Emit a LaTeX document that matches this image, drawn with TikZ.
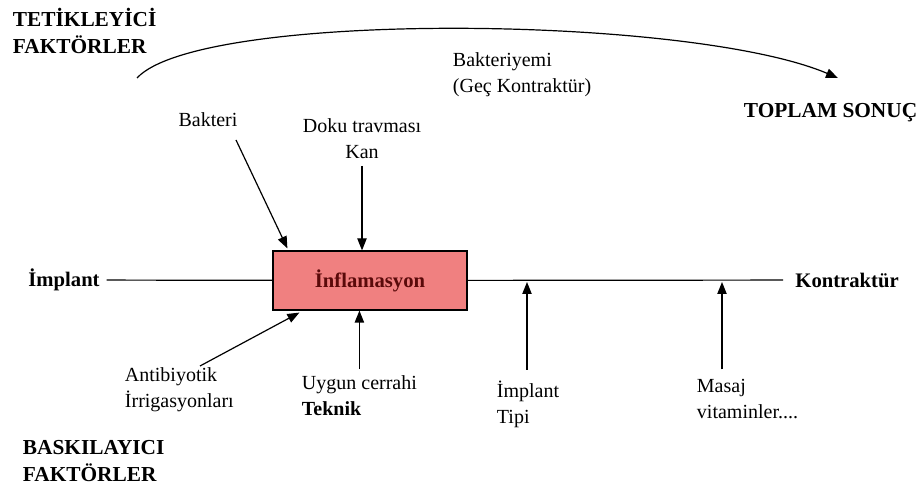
\documentclass[tikz,border=0pt]{standalone}
\usepackage{fontspec}
\setmainfont{Liberation Serif}
\usetikzlibrary{arrows.meta, positioning, calc}
\definecolor{boxred}{RGB}{240,128,128}
\definecolor{darkred}{RGB}{90,10,10}

\begin{document}
\begin{tikzpicture}[x=0.75pt, y=-0.75pt,
    factor/.style={font=\fontsize{16}{20}\selectfont\bfseries, align=left, inner sep=2pt},
    cause/.style={font=\fontsize{15}{19.5}\selectfont, align=left, inner sep=2pt},
    process/.style={rectangle, draw, line width=0.9pt, fill=boxred, minimum width=145.5pt, minimum height=44.25pt, font=\fontsize{15.5}{19}\selectfont\bfseries, text=darkred},
    axis/.style={draw, line width=0.9pt},
    arrow/.style={-{Triangle[length=9pt,width=7pt]}, line width=0.9pt}
]
\useasboundingbox (0,0) rectangle (920,491);

% Factor headings
\node[factor, anchor=west] (tetik) at (10,31) {TETİKLEYİCİ\\FAKTÖRLER};
\node[factor, anchor=west] (baski) at (20,461) {BASKILAYICI\\FAKTÖRLER};
\node[factor, anchor=west] (toplam) at (741,113) {TOPLAM SONUÇ};

% Main line
\node[process] (infl) at (370,280.5) {İnflamasyon};
\node[factor, font=\fontsize{15.5}{19}\selectfont\bfseries, anchor=west] (implant) at (25.5,280) {İmplant};
\node[factor, font=\fontsize{15.5}{19}\selectfont\bfseries, anchor=west] (kontr) at (792.5,280) {Kontraktür};
\draw[axis, shorten <=3pt] (implant) -- (infl);
\draw[axis, shorten >=7pt] (infl) -- (kontr);

% Overall course
\node[cause, anchor=west] (bakteriyemi) at (450,75) {Bakteriyemi\\(Geç Kontraktür)};
\coordinate (curve-start) at (137,78);
\coordinate (curve-end) at (838,78);
\draw[arrow] (curve-start) .. controls (200,10) and (690,15) .. (curve-end);

% Triggering causes
\node[cause] (bakteri) at (208,120) {Bakteri};
\node[cause, align=center] (doku) at (362,139) {Doku travması\\Kan};
\coordinate (bakteri-tail) at (236,140);
\draw[arrow] (bakteri-tail) -- ($(infl.north west)+(15,-2)$);
\draw[arrow, shorten <=3pt] (doku.south) -- (doku.south |- infl.north);

% Suppressing causes
\node[cause, anchor=west] (antibiyotik) at (122,390) {Antibiyotik\\İrrigasyonları};
\node[cause, anchor=west] (uygun) at (299,396) {Uygun cerrahi\\\textbf{Teknik}};
\node[cause, anchor=west] (tipi) at (494,404) {İmplant\\Tipi};
\node[cause, anchor=west] (masaj) at (694,399) {Masaj\\vitaminler....};
\coordinate (antibiyotik-tail) at (200,366);
\coordinate (tipi-head) at (527,282);
\coordinate (masaj-head) at (722,282);
\draw[arrow] (antibiyotik-tail) -- ($(infl.south west)+(27,2)$);
\draw[arrow] ($(uygun.north)+(0,-4)$) -- (uygun.north |- infl.south);
\draw[arrow] ($(tipi.north -| tipi-head)+(0,-8)$) -- (tipi-head);
\draw[arrow] ($(masaj.north -| masaj-head)+(0,-7)$) -- (masaj-head);

\end{tikzpicture}
\end{document}
